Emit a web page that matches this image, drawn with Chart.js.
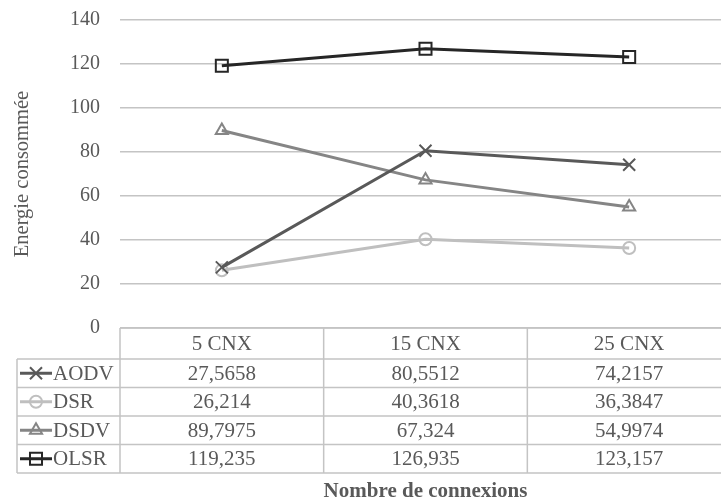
<!DOCTYPE html>
<html>
<head>
<meta charset="utf-8">
<script src="https://cdn.jsdelivr.net/npm/chart.js@4/dist/chart.umd.min.js"></script>
<style>
  html, body { margin: 0; padding: 0; background: #fff; overflow: hidden; }
  #wrap { width: 731px; height: 502px; }
</style>
</head>
<body>
<div id="wrap"><canvas id="energieChart" width="731" height="502"></canvas></div>
<script>
// categories and values per protocol
const categories = ['5 CNX', '15 CNX', '25 CNX'];
const aodv = [27.5658, 80.5512, 74.2157];
const dsr = [26.214, 40.3618, 36.3847];
const dsdv = [89.7975, 67.324, 54.9974];
const olsr = [119.235, 126.935, 123.157];
const yMin = 0;
const yMax = 140;
const yStep = 20;

const serif = 'Liberation Serif, Times New Roman, serif';
const textColor = '#595959';
const lineGrey = '#c4c4c4';

function serie(label, data, color, style, radius) {
    return {
        label: label,
        data: data,
        borderColor: color,
        borderWidth: 3,
        pointStyle: style,
        pointRadius: radius,
        pointBorderWidth: 2,
        pointBorderColor: color,
        pointBackgroundColor: 'rgba(0,0,0,0)',
        tension: 0
    };
}

// data table under the plot, with legend keys in the first column
const tablePlugin = {
    id: 'dataTable',
    afterDraw(chart) {
        const { ctx, chartArea, scales: { x } } = chart;
        const half = (x.getPixelForValue(1) - x.getPixelForValue(0)) / 2;
        const left = chartArea.left;
        const right = x.getPixelForValue(categories.length - 1) + half;
        const top = chartArea.bottom;
        const headH = 31;
        const rowH = 28.5;
        const keyLeft = 17;
        const sets = chart.data.datasets;
        const bottom = top + headH + rowH * sets.length;

        ctx.save();
        ctx.strokeStyle = lineGrey;
        ctx.lineWidth = 1.5;
        ctx.beginPath();
        // header row
        ctx.moveTo(left, top); ctx.lineTo(right, top);
        for (let r = 0; r <= sets.length; r++) {
            const y = top + headH + r * rowH;
            ctx.moveTo(keyLeft, y); ctx.lineTo(right, y);
        }
        ctx.moveTo(keyLeft, top + headH); ctx.lineTo(keyLeft, bottom);
        ctx.moveTo(left, top); ctx.lineTo(left, bottom);
        for (let i = 0; i < categories.length; i++) {
            const xr = x.getPixelForValue(i) + half;
            ctx.moveTo(xr, top); ctx.lineTo(xr, bottom);
        }
        ctx.stroke();

        ctx.font = '21px ' + serif;
        ctx.fillStyle = textColor;
        ctx.textAlign = 'center';
        ctx.textBaseline = 'middle';
        categories.forEach((c, i) => {
            ctx.fillText(c, x.getPixelForValue(i), top + headH / 2 + 1);
        });

        sets.forEach((ds, r) => {
            const yc = top + headH + r * rowH + rowH / 2 + 1;
            ds.data.forEach((v, i) => {
                ctx.fillStyle = textColor;
                ctx.textAlign = 'center';
                ctx.fillText(String(v).replace('.', ','), x.getPixelForValue(i), yc);
            });
            // legend key
            ctx.strokeStyle = ds.borderColor;
            ctx.lineWidth = 3;
            ctx.beginPath();
            ctx.moveTo(20, yc - 1); ctx.lineTo(52, yc - 1);
            ctx.stroke();
            ctx.lineWidth = 2;
            ctx.fillStyle = 'rgba(0,0,0,0)';
            Chart.helpers.drawPoint(ctx, {
                pointStyle: ds.pointStyle,
                radius: ds.pointRadius,
                rotation: 0,
                borderWidth: 2
            }, 36, yc - 1);
            ctx.fillStyle = textColor;
            ctx.textAlign = 'left';
            ctx.fillText(ds.label, 53, yc);
        });
        ctx.restore();
    }
};

new Chart(document.getElementById('energieChart'), {
    type: 'line',
    data: {
        labels: categories,
        datasets: [
            serie('AODV', aodv, '#595959', 'crossRot', 8.5),
            serie('DSR', dsr, '#bfbfbf', 'circle', 6),
            serie('DSDV', dsdv, '#858585', 'triangle', 7),
            serie('OLSR', olsr, '#262626', 'rect', 8.5)
        ]
    },
    options: {
        responsive: false,
        animation: false,
        devicePixelRatio: 1,
        layout: { autoPadding: false, padding: { top: 20, right: 0, bottom: 0, left: 0 } },
        plugins: {
            legend: { display: false },
            tooltip: { enabled: false }
        },
        scales: {
            x: {
                offset: true,
                grid: { display: false },
                border: { display: false },
                ticks: { display: false },
                title: {
                    display: true,
                    text: 'Nombre de connexions',
                    color: textColor,
                    font: { family: serif, size: 21, weight: 'bold', lineHeight: 1 },
                    padding: 0
                },
                afterFit(axis) {
                    axis.height = 174;
                    axis.paddingLeft = 0;
                    axis.paddingRight = 0;
                }
            },
            y: {
                min: yMin,
                max: yMax,
                border: { display: false },
                grid: { color: lineGrey, lineWidth: 1.5, drawTicks: false },
                ticks: {
                    stepSize: yStep,
                    padding: 20,
                    color: textColor,
                    font: { family: serif, size: 20 }
                },
                title: {
                    display: true,
                    text: 'Energie consommée',
                    color: textColor,
                    font: { family: serif, size: 20.5, lineHeight: 1.2 },
                    padding: { top: 10, bottom: 0 }
                },
                afterFit(axis) {
                    axis.width = 120;
                    axis.paddingTop = 0;
                    axis.paddingBottom = 0;
                }
            }
        }
    },
    plugins: [tablePlugin]
});
</script>
</body>
</html>
